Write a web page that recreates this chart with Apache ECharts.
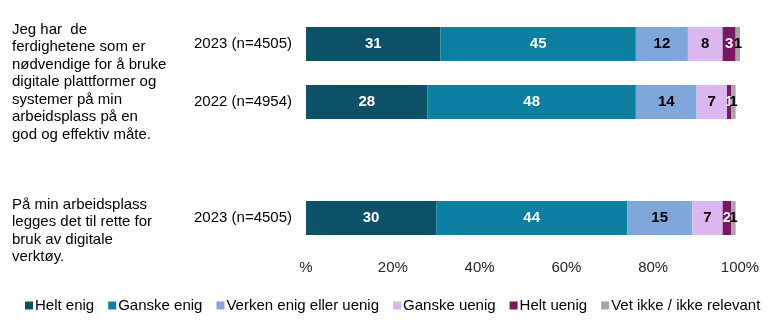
<!DOCTYPE html>
<html>
<head>
<meta charset="utf-8">
<script src="https://cdn.jsdelivr.net/npm/echarts@6/dist/echarts.min.js"></script>
<style>
  html, body { margin: 0; padding: 0; background: #fff; }
  #chart { width: 768px; height: 326px; }
</style>
</head>
<body>
<div id="chart"></div>
<script>
// Row labels (top to bottom); the empty string is a spacer row between the two statements
const rowLabels = ['2023 (n=4505)', '2022 (n=4954)', '', '2023 (n=4505)'];

// Shares in percent per answer option
const heltEnig      = [31, 28, null, 30];
const ganskeEnig    = [45, 48, null, 44];
const verken        = [12, 14, null, 15];
const ganskeUenig   = [8, 7, null, 7];
const heltUenig     = [3, 1, null, 2];
const vetIkke       = [1, 1, null, 1];

const seriesNames = ['Helt enig', 'Ganske enig', 'Verken enig eller uenig', 'Ganske uenig', 'Helt uenig', 'Vet ikke / ikke relevant'];
const seriesData = [heltEnig, ganskeEnig, verken, ganskeUenig, heltUenig, vetIkke];
const seriesColors = ['#0b5268', '#0c80a3', '#7fa7d9', '#dab7ee', '#7b1660', '#a6a6a6'];
const labelColors = ['#ffffff', '#ffffff', '#000000', '#000000', '#ffffff', '#000000'];

const tickLabels = ['%', '20%', '40%', '60%', '80%', '100%'];

const statement1 = ['Jeg har  de', 'ferdighetene som er', 'nødvendige for å bruke', 'digitale plattformer og', 'systemer på min', 'arbeidsplass på en', 'god og effektiv måte.'];
const statement2 = ['På min arbeidsplass', 'legges det til rette for', 'bruk av digitale', 'verktøy.'];

const FONT = '"Liberation Sans", Arial, sans-serif';

const chart = echarts.init(document.getElementById('chart'));

chart.setOption({
  animation: false,
  textStyle: { fontFamily: FONT },
  grid: { left: 306, right: 28, top: 15, height: 232, containLabel: false },
  xAxis: {
    type: 'value',
    min: 0, max: 100, interval: 20,
    splitLine: { show: false },
    axisLine: { show: false },
    axisTick: { show: false },
    axisLabel: {
      margin: 13,
      fontSize: 15,
      color: '#262626',
      fontFamily: FONT,
      formatter: (v) => tickLabels[Math.round(v / 20)]
    }
  },
  yAxis: {
    type: 'category',
    data: rowLabels.map((_, i) => 'r' + i),
    inverse: true,
    axisLine: { show: false },
    axisTick: { show: false },
    axisLabel: {
      margin: 14, fontSize: 15, color: '#000', fontFamily: FONT,
      formatter: (v, i) => rowLabels[i]
    }
  },
  legend: {
    data: seriesNames,
    left: 20,
    top: 293,
    itemWidth: 8,
    itemHeight: 8,
    itemGap: 14,
    icon: 'rect',
    textStyle: { fontSize: 15, color: '#000', fontFamily: FONT, padding: [0, 0, 0, -3] }
  },
  graphic: [
    {
      type: 'text', left: 12, top: 21,
      style: { text: statement1.join('\n'), font: '15px ' + FONT, lineHeight: 17.5, fill: '#000' }
    },
    {
      type: 'text', left: 12, top: 196,
      style: { text: statement2.join('\n'), font: '15px ' + FONT, lineHeight: 17.5, fill: '#000' }
    }
  ],
  series: seriesNames.map((name, i) => ({
    name,
    type: 'bar',
    stack: 'total',
    barWidth: 34,
    data: seriesData[i],
    itemStyle: { color: seriesColors[i] },
    label: {
      show: true,
      position: 'inside',
      fontSize: 15,
      fontWeight: 'bold',
      fontFamily: FONT,
      color: labelColors[i],
      formatter: (p) => (p.value == null ? '' : String(p.value))
    }
  }))
});
</script>
</body>
</html>
